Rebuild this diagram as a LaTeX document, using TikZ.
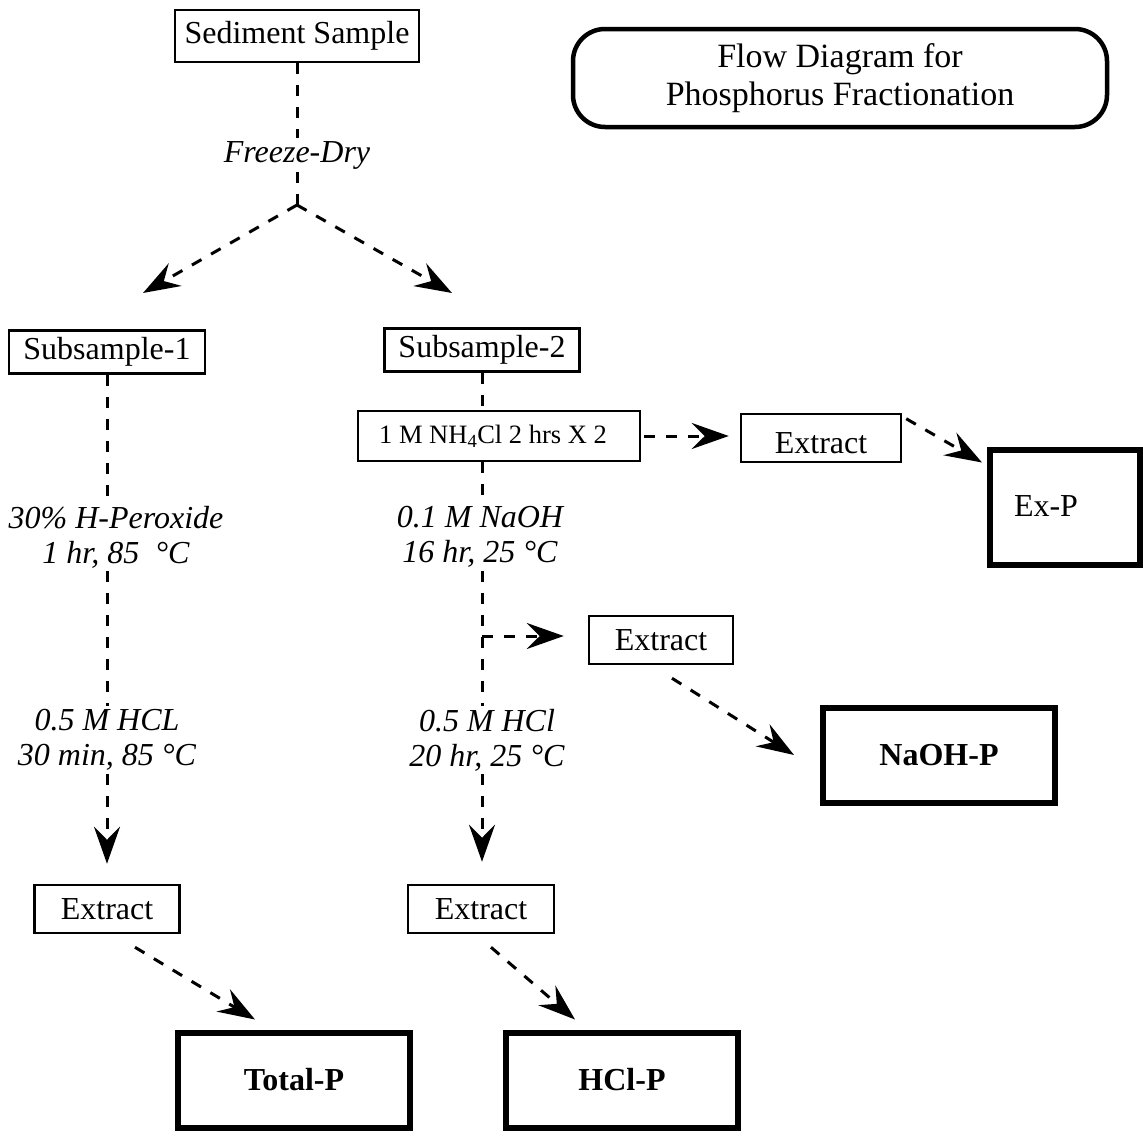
\documentclass[tikz,border=0pt]{standalone}
\usepackage{fontspec}
\setmainfont{Liberation Serif}
\usetikzlibrary{arrows.meta}

\tikzstyle{boxNode} = [rectangle, draw=black, line width=2.5pt, inner sep=0pt, text centered, font=\fontsize{32}{35}\selectfont]
\tikzstyle{resNode} = [rectangle, draw=black, line width=6pt, minimum width=232, minimum height=95, inner sep=0pt, text centered, font=\fontsize{32}{35}\selectfont\bfseries]
\tikzstyle{titleNode} = [rectangle, rounded corners=32pt, draw=black, line width=4.5pt, align=center, font=\fontsize{34}{38}\selectfont]
\tikzstyle{stepNote} = [inner sep=3pt, align=center, font=\fontsize{32}{35}\selectfont\itshape]
\tikzstyle{dashLine} = [line width=3pt, dash pattern=on 11pt off 11pt]
\tikzstyle{arrow} = [dashLine, -{Stealth[length=37pt, width=26pt, inset=13pt]}]

\begin{document}
\begin{tikzpicture}[x=1pt, y=-1pt]
    \useasboundingbox (0,0) rectangle (1143,1135);

    \node (sed)[boxNode, minimum width=244, minimum height=52] at (297,36) {Sediment Sample};
    \node (title)[titleNode, minimum width=534, minimum height=98] at (840,78) {Flow Diagram for\\Phosphorus Fractionation};
    \node (freeze)[stepNote] at (297,155) {Freeze-Dry};
    \coordinate (fork) at (297,205);
    \coordinate (tipL) at (143,293);
    \coordinate (tipR) at (452,293);

    \node (sub1)[boxNode, minimum width=196, minimum height=43] at (107,352) {Subsample-1};
    \node (sub2)[boxNode, minimum width=195, minimum height=43] at (482,350) {Subsample-2};

    % left branch
    \node (perox)[stepNote] at (116,537) {30\% H-Peroxide\\1 hr, 85~ °C};
    \node (hclL)[stepNote] at (107,740) {0.5 M HCL\\30 min, 85 °C};
    \node (extL)[boxNode, minimum width=145, minimum height=48] at (107,909) {Extract};
    \node (totP)[resNode] at (294,1080) {Total-P};

    % right branch
    \node (nh4)[boxNode, minimum width=282, minimum height=50, font=\fontsize{26.5}{30}\selectfont] at (499,436) {1 M NH\textsubscript{4}Cl 2 hrs X 2\hspace*{12pt}};
    \node (extA)[boxNode, minimum width=160, minimum height=48] at (821,438) {\raisebox{-5pt}[\height][\depth]{Extract}};
    \node (exP)[resNode, minimum width=150, minimum height=115] at (1065,507) {};
    \node (exPText)[font=\fontsize{32}{35}\selectfont] at (1046,506) {Ex-P};
    \node (naoh)[stepNote] at (480,537) {0.1 M NaOH\\16 hr, 25 °C};
    \coordinate (split) at (482,636);
    \node (extB)[boxNode, minimum width=144, minimum height=48] at (661,640) {Extract};
    \node (naohP)[resNode] at (939,755) {NaOH-P};
    \node (hclR)[stepNote] at (487,740) {0.5 M HCl\\20 hr, 25 °C};
    \node (extR)[boxNode, minimum width=146, minimum height=48] at (481,909) {Extract};
    \node (hclP)[resNode] at (622,1080) {HCl-P};

    \draw [dashLine] (sed) -- (freeze);
    \draw [dashLine] (freeze) -- (fork);
    \draw [arrow] (fork) -- (tipL);
    \draw [arrow] (fork) -- (tipR);

    \draw [dashLine] (sub1.south) -- (sub1.south |- perox.north);
    \draw [dashLine] (sub1.south |- perox.south) -- (sub1.south |- hclL.north);
    \draw [arrow, shorten >=20] (sub1.south |- hclL.south) -- (extL);
    \draw [arrow] ([shift={(28,13)}]extL.south) -- ([shift={(80,-10)}]totP.north west);

    \draw [dashLine] (sub2) -- (sub2 |- nh4.north);
    \draw [arrow, shorten <=3, shorten >=11] (nh4.east) -- (nh4.east -| extA.west);
    \draw [arrow] ([shift={(4,6)}]extA.north east) -- ([shift={(-5,16)}]exP.north west);
    \draw [dashLine] (sub2 |- nh4.south) -- (sub2 |- naoh.north);
    \draw [dashLine] (sub2 |- naoh.south) -- (sub2 |- hclR.north);
    \draw [arrow, shorten >=24] (split) -- (split -| extB.west);
    \draw [arrow] ([shift={(11,13)}]extB.south) -- ([shift={(-26,0)}]naohP.west);
    \draw [arrow, shorten >=22] (sub2 |- hclR.south) -- (sub2 |- extR.north);
    \draw [arrow] ([shift={(10,13)}]extR.south) -- ([shift={(72,-10)}]hclP.north west);

\end{tikzpicture}
\end{document}
